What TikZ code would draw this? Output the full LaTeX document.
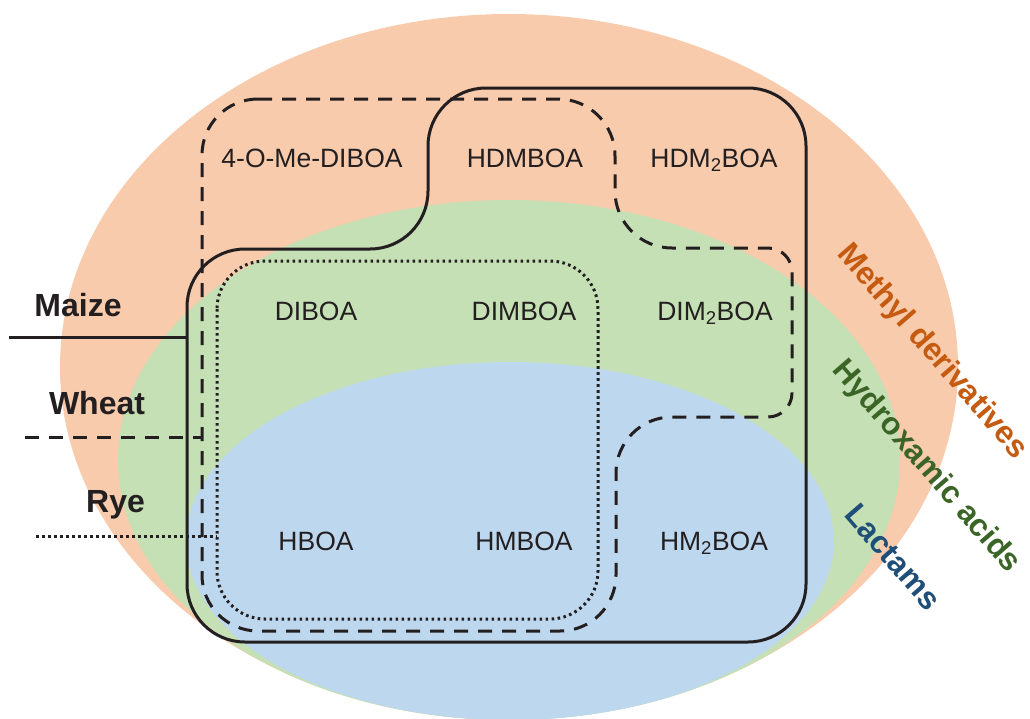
\documentclass[tikz,border=0pt]{standalone}
\usepackage{fontspec}
\setmainfont{Liberation Sans}
\definecolor{methylfill}{HTML}{F8CBAD}
\definecolor{hydroxfill}{HTML}{C5E0B4}
\definecolor{lactamfill}{HTML}{BDD7EE}
\definecolor{methyltext}{HTML}{C55A11}
\definecolor{hydroxtext}{HTML}{3B6526}
\definecolor{lactamtext}{HTML}{1F4E79}
\definecolor{ink}{HTML}{231F20}
\tikzset{
  cmpd/.style={anchor=base, inner sep=0pt, text=ink, font=\fontsize{26.5}{30}\selectfont},
  crop/.style={anchor=base, inner sep=0pt, text=ink, font=\bfseries\fontsize{32}{35}\selectfont},
  group/.style={inner sep=0pt, rotate=-49, font=\bfseries\fontsize{31.5}{35}\selectfont},
  maizeline/.style={draw=ink, line width=3pt},
  wheatline/.style={draw=ink, line width=3pt, dash pattern=on 14pt off 10pt},
  ryeline/.style={draw=ink, line width=3pt, dash pattern=on 2.6pt off 3.4pt},
}
\begin{document}
\begin{tikzpicture}[x=1pt, y=-1pt]
\useasboundingbox (0,0) rectangle (1030,718);
\clip (0,0) rectangle (1030,718);

% nested classes of benzoxazinoids
\fill[methylfill] (509,367) ellipse [x radius=449pt, y radius=353pt];
\fill[hydroxfill] (509,460) ellipse [x radius=391pt, y radius=260pt];
\fill[lactamfill] (510,541) ellipse [x radius=324pt, y radius=179pt];

% maize
\draw[maizeline, rounded corners=58pt]
  (428,88) -- (806,88) -- (806,642) -- (187,642) -- (187,249) -- (428,249) -- cycle;

% wheat: the option in force when a corner point is reached sets its radius
\draw[wheatline, rounded corners=57pt]
  (202,99) -- (615,99) -- (615,248)
  [rounded corners=24pt] -- (792,248) -- (792,417)
  [rounded corners=56pt] -- (616,417) -- (616,631) -- (202,631) -- cycle;

% rye
\draw[ryeline, rounded corners=48pt] (217,261) rectangle (598,619);

% compounds
\node[cmpd] (meDIBOA) at (312,167) {4-O-Me-DIBOA};
\node[cmpd] (HDMBOA)  at (525,167) {HDMBOA};
\node[cmpd] (HDM2BOA) at (714,167) {HDM\textsubscript{2}BOA};
\node[cmpd] (DIBOA)   at (316,320) {DIBOA};
\node[cmpd] (DIMBOA)  at (524,320) {DIMBOA};
\node[cmpd] (DIM2BOA) at (715,320) {DIM\textsubscript{2}BOA};
\node[cmpd] (HBOA)    at (316,550) {HBOA};
\node[cmpd] (HMBOA)   at (524,550) {HMBOA};
\node[cmpd] (HM2BOA)  at (714,550) {HM\textsubscript{2}BOA};

% class names
\node[group, text=methyltext] (methyl) at (932,352) {Methyl derivatives};
\node[group, text=hydroxtext] (hydrox) at (926,467) {Hydroxamic acids};
\node[group, text=lactamtext] (lactam) at (893,557) {Lactams};

% species legend
\node[crop] (maize) at (78,316) {Maize};
\node[crop] (wheat) at (97,414) {Wheat};
\node[crop] (rye)   at (115.5,512) {Rye};
\coordinate (maizeA) at (9,337);
\coordinate (maizeB) at (187,337);
\coordinate (wheatA) at (25,437);
\coordinate (wheatB) at (202,437);
\coordinate (ryeA) at (36,536);
\coordinate (ryeB) at (217,536);
\draw[maizeline] (maizeA) -- (maizeB);
\draw[wheatline] (wheatA) -- (wheatB);
\draw[ryeline] (ryeA) -- (ryeB);
\end{tikzpicture}
\end{document}
